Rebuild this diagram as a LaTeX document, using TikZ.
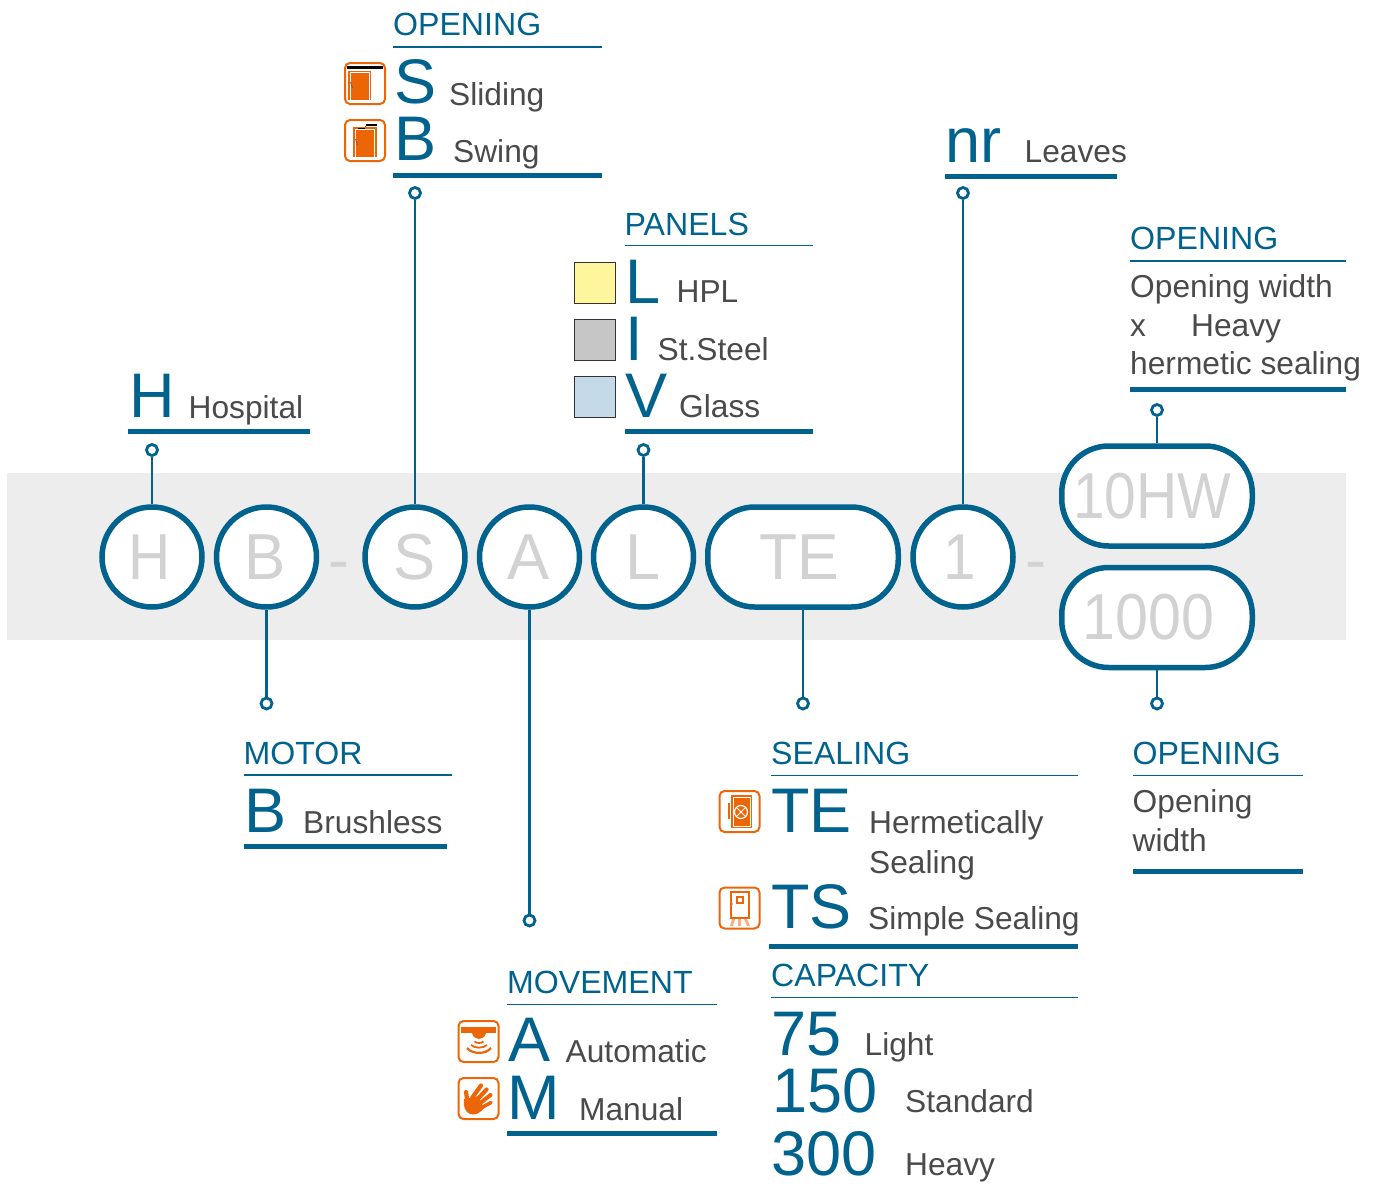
\documentclass[tikz,border=0pt]{standalone}
\usepackage{fontspec}
\setmainfont{Liberation Sans}
\definecolor{bl}{HTML}{00628D}
\definecolor{og}{HTML}{EC6608}
\definecolor{ogl}{HTML}{F6B183}
\definecolor{band}{HTML}{EDEDED}
\definecolor{lt}{HTML}{D2D2D2}
\definecolor{tx}{HTML}{4A4A4A}
\definecolor{swy}{HTML}{FFF59D}
\definecolor{swg}{HTML}{C6C6C6}
\definecolor{swb}{HTML}{C5DAE9}
\newcommand{\bigf}{\fontsize{63}{63}\selectfont}
\newcommand{\smf}{\fontsize{31.7}{32}\selectfont}
\newcommand{\hdf}{\fontsize{32.1}{33}\selectfont}
% xscale, horizontal shift (twice the wanted shift), text
\newcommand{\codef}[3]{\fontsize{65}{65}\selectfont\kern#2pt\scalebox{#1}[1]{#3}}
\tikzset{x=1pt,y=-1pt,
 circ/.style={circle,draw=bl,fill=white,line width=5.5pt,minimum size=100pt,inner sep=0pt,text=lt},
 pill/.style={rectangle,draw=bl,fill=white,line width=5.5pt,rounded corners=47pt,minimum width=190.5pt,minimum height=100pt,inner sep=0pt,text=lt},
 ring/.style={circle,draw=bl,line width=2.8pt,fill=white,minimum size=11pt,inner sep=0pt},
 conn/.style={draw=bl,line width=2.5pt},
 head/.style={anchor=base west,inner sep=0pt,text=bl,font=\hdf},
 big/.style={anchor=base west,inner sep=0pt,text=bl,font=\bigf},
 lab/.style={anchor=base west,inner sep=0pt,text=tx,font=\smf},
 thin/.style={draw=bl,line width=1.2pt},
 thick/.style={draw=bl,line width=5pt},
 iconbox/.style={draw=og,line width=2pt,fill=white,rounded corners=5pt},
 swatch/.style={draw=black!80,line width=1.1pt,minimum size=41pt,inner sep=0pt}
}
\newcommand{\iconframe}[2]{\draw[iconbox] (#1-20,#2-20.5) rectangle (#1+20,#2+20.5);}
\begin{document}
\begin{tikzpicture}
\useasboundingbox (0,0) rectangle (1379,1191);
\fill[band] (7,473) rectangle (1346,640);
\node[ring] (rH) at (152,450) {};
\node[ring] (rS) at (415,193) {};
\node[ring] (rL) at (643.5,450) {};
\node[ring] (r1) at (963,193) {};
\node[ring] (rW) at (1157,410) {};
\node[ring] (rB) at (266.5,703.5) {};
\node[ring] (rTE) at (803,703.5) {};
\node[ring] (rD) at (1157,703.5) {};
\node[ring] (rA) at (529.5,920.5) {};
% code nodes
\node[circ] (cH) at (152,557) {\codef{.9}{-4}{H}};
\node[circ] (cB) at (266.5,557) {\codef{.95}{-3}{B}};
\node[circ] (cS) at (415,557) {\codef{.97}{-1}{S}};
\node[circ] (cA) at (529.5,557) {\codef{.97}{-2}{A}};
\node[circ] (cL) at (643.5,557) {\codef{.97}{-1}{L}};
\node[pill] (cTE) at (803,557) {\codef{.96}{-7}{TE}};
\node[circ] (c1) at (963,557) {\codef{.9}{-6}{1}};
\node[pill] (cW) at (1157,496) {\codef{.875}{-10}{10HW}};
\node[pill] (cD) at (1157,617.5) {\raisebox{-1.5pt}{\codef{.91}{-17}{1000}}};
\node[text=lt,font=\bigf,inner sep=0pt] (d1) at (338.5,571.5) {-};
\node[text=lt,font=\bigf,inner sep=0pt] (d2) at (1035.5,571.5) {-};
\draw[conn] (cH.north) -- (rH);
\draw[conn] (cS.north) -- (rS);
\draw[conn] (cL.north) -- (rL);
\draw[conn] (c1.north) -- (r1);
\draw[conn] (cW.north) -- (rW);
\draw[conn] (cB.south) -- (rB);
\draw[conn] (cTE.south) -- (rTE);
\draw[conn] (cD.south) -- (rD);
\draw[conn] (cA.south) -- (rA);
% Opening S/B
\node[head] (t1) at (393,35) {OPENING};
\draw[thin] (393,47) -- (602,47);
\node[big] (t2) at (394,103) {S};
\node[lab] (t3) at (449,105) {Sliding};
\node[big] (t4) at (394,160) {B};
\node[lab] (t5) at (453,162) {Swing};
\draw[thick] (393,175.5) -- (602,175.5);
% Panels
\node[head] (p1) at (624.5,235) {PANELS};
\draw[thin] (625,245.5) -- (813,245.5);
\node[big] (p2) at (625,303) {L};
\node[lab] (p3) at (676.5,302) {HPL};
\node[big] (p4) at (625,360) {I};
\node[lab] (p5) at (657.5,360) {St.Steel};
\node[big] (p6) at (625,417) {V};
\node[lab] (p7) at (679,417) {Glass};
\draw[thick] (625,431) -- (813,431);
\node[swatch,fill=swy] (s1) at (595,283) {};
\node[swatch,fill=swg] (s2) at (595,340) {};
\node[swatch,fill=swb] (s3) at (595,397) {};
% Hospital
\node[big] (h1) at (129,417) {H};
\node[lab] (h2) at (188.5,418) {Hospital};
\draw[thick] (128,431) -- (310,431);
% Leaves
\node[big] (n1) at (945,162) {nr};
\node[lab] (n2) at (1024.5,162) {Leaves};
\draw[thick] (945,176) -- (1117,176);
% Opening top right
\node[head] (o1) at (1130,249) {OPENING};
\draw[thin] (1130,261) -- (1346,261);
\node[lab] (o2) at (1130,297) {Opening width};
\node[lab] (o3) at (1130,336) {x};
\node[lab] (o4) at (1191,336) {Heavy};
\node[lab] (o5) at (1130,374) {hermetic sealing};
\draw[thick] (1130,389) -- (1346,389);
% Motor
\node[head] (m1) at (243.5,764) {MOTOR};
\draw[thin] (244,775) -- (452,775);
\node[big] (m2) at (244,832) {B};
\node[lab] (m3) at (303,833) {Brushless};
\draw[thick] (244,846.5) -- (447,846.5);
% Movement
\node[head] (v1) at (507,993) {MOVEMENT};
\draw[thin] (507,1004.5) -- (717,1004.5);
\node[big] (v2) at (508,1061) {A};
\node[lab] (v3) at (565.5,1062) {Automatic};
\node[big] (v4) at (507.5,1119) {M};
\node[lab] (v5) at (579,1120) {Manual};
\draw[thick] (507,1133.5) -- (717,1133.5);
% Sealing
\node[head] (e1) at (771,764) {SEALING};
\draw[thin] (771,775.5) -- (1078,775.5);
\node[big] (e2) at (771,832) {TE};
\node[lab] (e3) at (869,833) {Hermetically};
\node[lab] (e4) at (869,873) {Sealing};
\node[big] (e5) at (771,928) {TS};
\node[lab] (e6) at (868,929) {Simple Sealing};
\draw[thick] (769,946.5) -- (1078,946.5);
% Capacity
\node[head] (k1) at (771,986) {CAPACITY};
\draw[thin] (771,997.5) -- (1078,997.5);
\node[big] (k2) at (771,1055) {75};
\node[lab] (k3) at (864.5,1055) {Light};
\node[big] (k4) at (772,1112) {150};
\node[lab] (k5) at (905,1112) {Standard};
\node[big] (k6) at (771,1175) {300};
\node[lab] (k7) at (905,1175) {Heavy};
% Opening bottom right
\node[head] (b1) at (1132.5,764) {OPENING};
\draw[thin] (1133,775.5) -- (1303,775.5);
\node[lab] (b2) at (1132.5,812) {Opening};
\node[lab] (b3) at (1132.5,851) {width};
\draw[thick] (1133,871.5) -- (1303,871.5);
% icon: sliding
\iconframe{365}{83.5}
\fill[black] (347,66) rectangle (383,68.5);
\fill[og] (348,70.5) rectangle (371,100);
\draw[white,line width=.9pt] (350,100) -- (350,72.5) -- (369.5,72.5) -- (369.5,100);
\draw[black!60,line width=.8pt] (350.5,82) -- (352.5,88);
% icon: swing
\iconframe{365}{140.5}
\fill[black] (366,124) rectangle (377,126.2);
\draw[black,line width=.6pt] (365,128) -- (366,126);
\fill[og] (353,127) rectangle (377,157);
\fill[black] (358,127.5) rectangle (365,130);
\draw[white,line width=.9pt] (355,157) -- (355,129.5) -- (374.5,129.5) -- (374.5,157);
\draw[black!60,line width=.8pt] (355.5,139) -- (357.5,145);
% icon: TE
\iconframe{739.5}{811.5}
\fill[og] (728,803) rectangle (730,819);
\fill[og] (731,795) rectangle (752,828);
\draw[white,line width=.5pt] (733,797) rectangle (750,826);
\draw[white,line width=1.2pt] (741,812) circle (6.5);
\draw[white,line width=.9pt] (736.5,807.5) -- (745.5,816.5) (745.5,807.5) -- (736.5,816.5);
% icon: TS
\iconframe{739.5}{908}
\draw[og,line width=1.6pt] (731,892) rectangle (749,918);
\draw[og,line width=1.1pt] (737,897) rectangle (743,903);
\fill[og] (732.5,904) circle (.7);
\fill[ogl] (732,919) -- (735,919) -- (733,926) -- (730,926) -- cycle;
\fill[ogl] (738,919) -- (741,919) -- (741,926) -- (738,926) -- cycle;
\fill[ogl] (744,919) -- (747,919) -- (750,926) -- (747,926) -- cycle;
% icon: automatic
\iconframe{478.5}{1041.5}
\fill[og] (461,1027) rectangle (496,1033);
\fill[og] (472,1033) -- (486,1033) .. controls (485,1037) and (482,1039) .. (479,1039) .. controls (476,1039) and (473,1037) .. (472,1033) -- cycle;
\draw[og,line width=1.8pt] (474.5,1041.5) .. controls (476.5,1043.5) and (481.5,1043.5) .. (483.5,1041.5);
\draw[og,line width=1.8pt] (471,1045) .. controls (475,1048.5) and (483,1048.5) .. (487,1045);
\draw[og,line width=2.2pt] (467,1048) .. controls (472,1054.5) and (486,1054.5) .. (491,1048);
% icon: manual
\iconframe{478.5}{1098.5}
\fill[og] (464,1099) .. controls (463,1106) and (465,1112) .. (470,1114) .. controls (476,1116) and (481,1112) .. (484,1108) -- (478,1096) -- (470,1098) -- cycle;
\draw[og,line width=4.2pt,line cap=round] (467.5,1102) -- (466,1092);
\draw[og,line width=4.2pt,line cap=round] (472,1098) -- (481,1085.5);
\draw[og,line width=4.2pt,line cap=round] (476,1101) -- (486.5,1089.5);
\draw[og,line width=4pt,line cap=round] (479,1104) -- (490.5,1095);
\draw[og,line width=3.6pt,line cap=round] (481,1108) -- (491,1102.5);
\end{tikzpicture}
\end{document}
